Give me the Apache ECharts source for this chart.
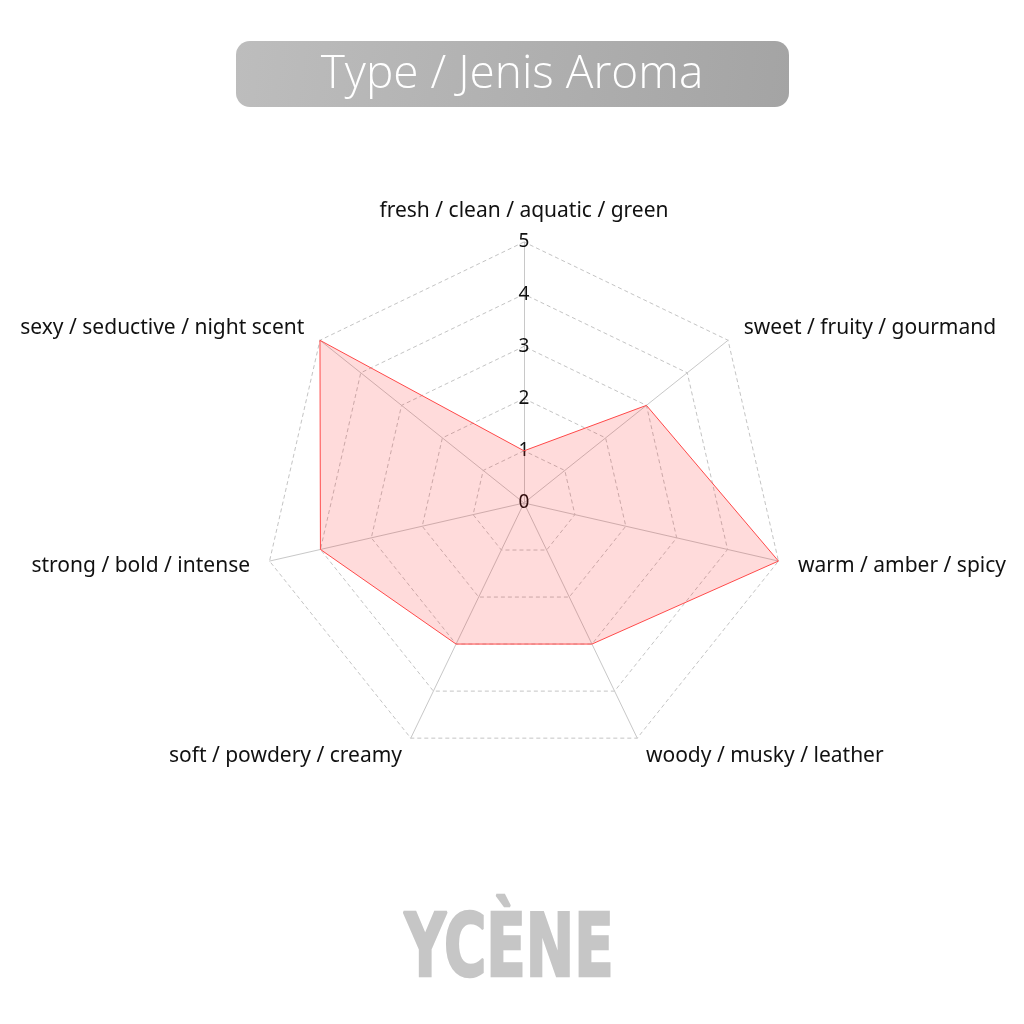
<!DOCTYPE html>
<html><head><meta charset="utf-8">
<script src="https://cdn.jsdelivr.net/npm/echarts@6/dist/echarts.min.js"></script>
<style>html,body{margin:0;padding:0;background:#fff}#c{width:1024px;height:1024px}</style>
</head><body><div id="c"></div>
<script>
const titleText = 'Type / Jenis Aroma';
const brandText = 'YCÈNE';
// clockwise from top
const categories = ['fresh / clean / aquatic / green','sweet / fruity / gourmand','warm / amber / spicy','woody / musky / leather','soft / powdery / creamy','strong / bold / intense','sexy / seductive / night scent'];
const values = [1, 3, 5, 3, 3, 4, 5];
const maxValue = 5;

// ECharts radar runs counter-clockwise: keep top first, then reverse the rest
const order = [0].concat(categories.map((_, i) => i).slice(1).reverse());

const chart = echarts.init(document.getElementById('c'), null, {renderer:'canvas'});
const FONT = '"Noto Sans", "Open Sans", sans-serif';
chart.setOption({
  backgroundColor: '#ffffff',
  graphic: [
    {type:'rect', shape:{x:236,y:41,width:553,height:66,r:14},
     style:{fill:new echarts.graphic.LinearGradient(0,0,1,1,[{offset:0,color:'#bdbdbd'},{offset:1,color:'#a4a4a4'}])}, z:1},
    {type:'text', x:512, y:75, z:2, style:{text:titleText, fill:'#ffffff', font:'300 46px "Open Sans", "Noto Sans", sans-serif', textAlign:'center', textVerticalAlign:'middle'}},
    {type:'text', x:509, y:953, scaleX:0.73, z:2, style:{text:brandText, fill:'#c6c6c6', stroke:'#c6c6c6', lineWidth:2.5, font:'bold 88px "Liberation Sans Narrow", "DejaVu Sans Condensed", sans-serif', textAlign:'center', textVerticalAlign:'middle'}}
  ],
  radar: {
    center: [524, 503],
    radius: 261,
    startAngle: 90,
    shape: 'polygon',
    splitNumber: 5,
    nameGap: 20,
    axisName: {color:'#111', fontSize:21, fontFamily: FONT},
    axisLine: {lineStyle:{color:'#c8c8c8', width:1}},
    splitLine: {lineStyle:{color:'#c4c4c4', type:[4,3], width:1}},
    splitArea: {show:false},
    axisTick: {show:false},
    axisLabel: {show:false},
    indicator: order.map((k, j) => {
      const o = {name: categories[k], min:0, max:maxValue};
      if (j === 0) o.axisLabel = {show:true, color:'#111', fontSize:19, fontFamily:FONT, margin:0, align:'center', verticalAlign:'middle', showMinLabel:true, showMaxLabel:true};
      return o;
    })
  },
  series: [{
    type:'radar',
    symbol:'none',
    lineStyle:{color:'#ff5050', width:1},
    areaStyle:{color:'rgba(255,0,0,0.2)'},
    data:[{value: order.map(k => values[k])}]
  }]
});
</script></body></html>
